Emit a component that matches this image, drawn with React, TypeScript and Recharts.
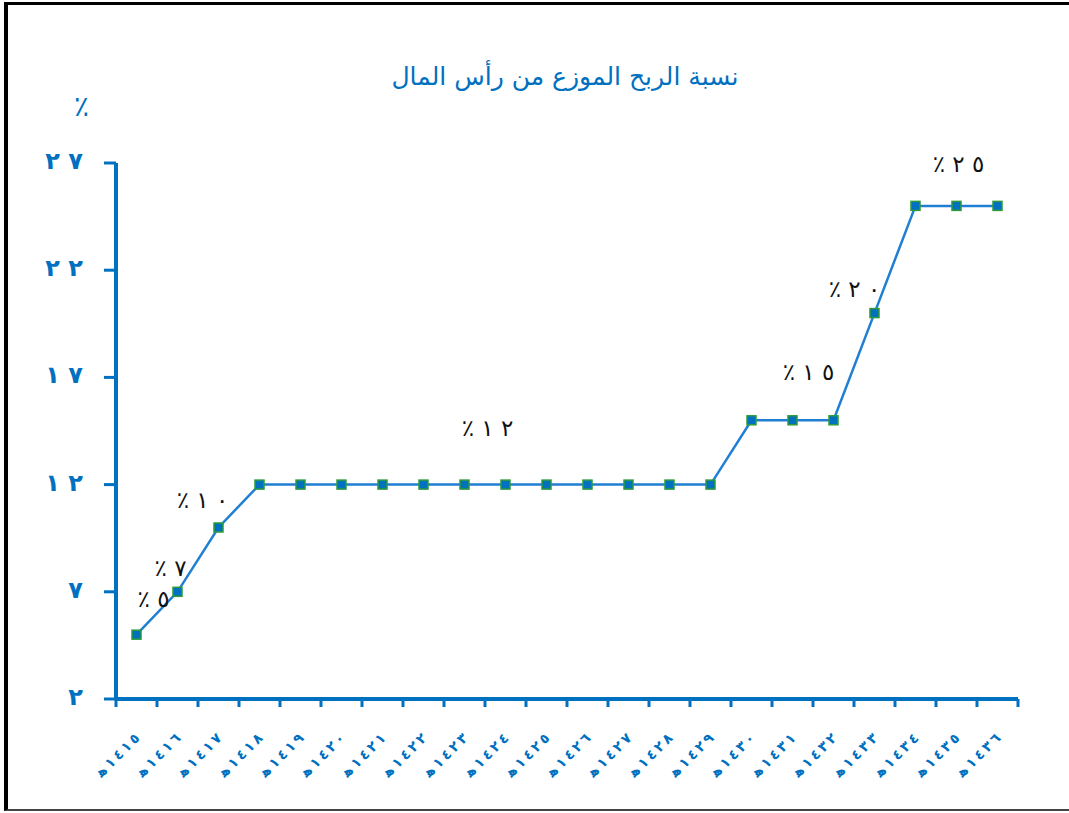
import React from "react";
import { LineChart, Line, XAxis, YAxis, LabelList } from "recharts";

const years = [
  "1415", "1416", "1417", "1418", "1419", "1420", "1421", "1422", "1423", "1424", "1425",
  "1426", "1427", "1428", "1429", "1430", "1431", "1432", "1433", "1434", "1435", "1436",
];
const rates = [5, 7, 10, 12, 12, 12, 12, 12, 12, 12, 12, 12, 12, 12, 12, 15, 15, 15, 20, 25, 25, 25];
const yTicks = [2, 7, 12, 17, 22, 27];
const pointLabels: Record<string, string> = {
  "1415": "٪ ٥",
  "1416": "٪ ٧",
  "1417": "٪ ١ ٠",
  "1424": "٪ ١ ٢",
  "1431": "٪ ١ ٥",
  "1433": "٪ ٢ ٠",
  "1435": "٪ ٢ ٥",
};
const title = "نسبة الربح الموزع من رأس المال";
const unit = "٪";
const hijriMark = "\uFEEB";

const data = years.map((y, i) => ({ year: y, rate: rates[i] }));

const toArabic = (s: string | number, sep = "") =>
  String(s)
    .split("")
    .map((d) => "٠١٢٣٤٥٦٧٨٩"[Number(d)])
    .join(sep);

// force left-to-right visual order
const LRO = (s: string) => "\u202D" + s + "\u202C";

const BLUE = "#0070C0";
const ARFONT = "'DejaVu Sans', 'Noto Sans', sans-serif";
const BW = 41;

const labelOffsets: Record<string, [number, number]> = {
  "1415": [17, -34],
  "1416": [-7, -22],
  "1417": [-16, -26],
  "1424": [-18, -55],
  "1431": [16, -47],
  "1433": [-20, -23],
  "1435": [2, -40],
};

const XTick = (props: any) => {
  const { x, y, payload, index } = props;
  const last = index === years.length - 1;
  return (
    <g>
      <line x1={x - BW / 2} x2={x - BW / 2} y1={y - 8} y2={y} stroke={BLUE} strokeWidth={3} />
      {last && (
        <line x1={x + BW / 2} x2={x + BW / 2} y1={y - 8} y2={y} stroke={BLUE} strokeWidth={3} />
      )}
      <text
        x={0}
        y={0}
        transform={`translate(${x + 4},${y + 32}) rotate(-45)`}
        textAnchor="end"
        fill={BLUE}
        fontSize={14}
        fontWeight="bold"
        fontFamily={ARFONT}
      >
        {LRO(hijriMark + "\u2009" + toArabic(payload.value, "\u2009"))}
      </text>
    </g>
  );
};

const YTick = (props: any) => {
  const { x, y, payload } = props;
  return (
    <text
      x={x - 19}
      y={y}
      dy={6}
      textAnchor="end"
      fill={BLUE}
      fontSize={24}
      fontWeight="bold"
      fontFamily={ARFONT}
    >
      {LRO(toArabic(payload.value, " "))}
    </text>
  );
};

const Dot = (props: any) => {
  const { cx, cy } = props;
  if (cx == null || cy == null) return null;
  return <rect x={cx - 4.5} y={cy - 4.5} width={9} height={9} fill={BLUE} stroke="#2e9b3a" strokeWidth={1.5} />;
};

const PointLabel = (props: any) => {
  const { x, y, index } = props;
  const key = years[index];
  const txt = pointLabels[key];
  if (!txt) return null;
  const [dx, dy] = labelOffsets[key];
  return (
    <text
      x={x + dx}
      y={y + dy}
      textAnchor="middle"
      dominantBaseline="middle"
      fill="#111"
      fontSize={23}
      fontFamily={ARFONT}
    >
      {LRO(txt)}
    </text>
  );
};

export default function App() {
  return (
    <div style={{ position: "absolute", left: 0, top: 0, width: 1069, height: 813, background: "#fff" }}>
      <div
        style={{
          position: "absolute",
          left: 4,
          top: 2,
          width: 1069,
          height: 809,
          borderLeft: "4px solid #000",
          borderTop: "3px solid #000",
          borderBottom: "2px solid #444",
          boxSizing: "border-box",
        }}
      />
      <div
        style={{
          position: "absolute",
          left: 0,
          width: 1130,
          top: 62,
          textAlign: "center",
          color: BLUE,
          fontSize: 25,
          fontFamily: ARFONT,
          direction: "rtl",
        }}
      >
        {title}
      </div>
      <div
        style={{
          position: "absolute",
          left: 74,
          top: 90,
          color: BLUE,
          fontSize: 28,
          fontFamily: ARFONT,
        }}
      >
        {unit}
      </div>
      <div style={{ position: "absolute", left: 0, top: 0 }}>
        <LineChart width={1069} height={813} data={data} margin={{ top: 163, right: 51, bottom: 0, left: 20 }}>
          <XAxis
            dataKey="year"
            height={114}
            padding={{ left: BW / 2, right: BW / 2 }}
            axisLine={{ stroke: BLUE, strokeWidth: 4 }}
            tickLine={false}
            tick={<XTick />}
            interval={0}
          />
          <YAxis
            width={96}
            domain={[2, 27]}
            ticks={yTicks}
            axisLine={{ stroke: BLUE, strokeWidth: 4 }}
            tickLine={{ stroke: BLUE, strokeWidth: 3 }}
            tickSize={12}
            tick={<YTick />}
            interval={0}
          />
          <Line
            dataKey="rate"
            stroke="#1f7fd2"
            strokeWidth={2.5}
            dot={<Dot />}
            activeDot={false}
            isAnimationActive={false}
          >
            <LabelList dataKey="rate" content={<PointLabel />} />
          </Line>
        </LineChart>
      </div>
    </div>
  );
}
